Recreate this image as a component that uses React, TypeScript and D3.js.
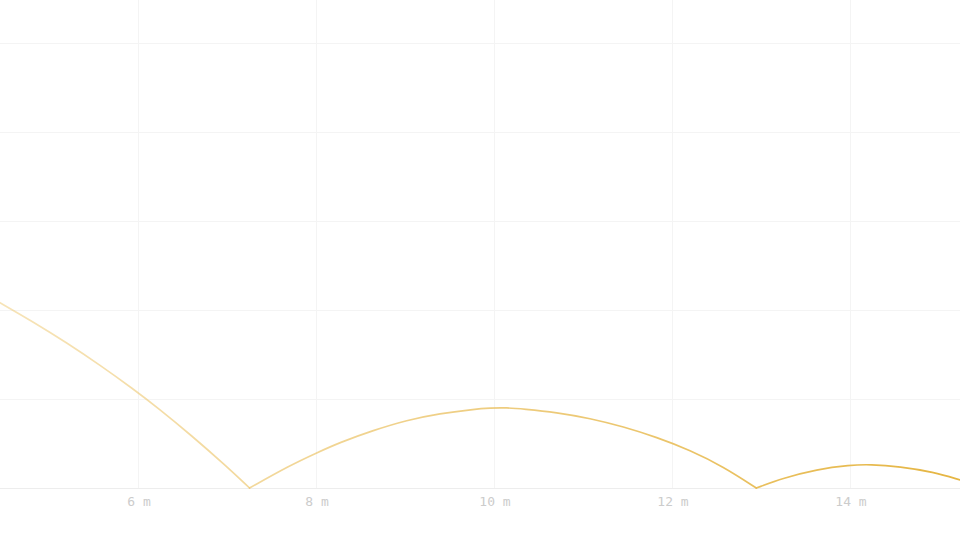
import React from "react";
import * as d3 from "d3";

// Bouncing trajectory (x in metres, height in metres)
const arc1X = [4.438, 4.812, 5.188, 5.562, 5.936, 6.217, 6.592, 6.966, 7.242];
const arc1H = [2.082, 1.866, 1.632, 1.381, 1.112, 0.896, 0.588, 0.259, 0];

const arc2X = [7.242, 7.697, 7.997, 8.258, 8.633, 9.008, 9.382, 9.756, 9.944, 10.131, 10.318, 10.693, 11.067, 11.442, 11.817, 12.191, 12.565, 12.936];
const arc2H = [0, 0.255, 0.395, 0.512, 0.648, 0.762, 0.838, 0.884, 0.899, 0.902, 0.888, 0.849, 0.783, 0.689, 0.57, 0.425, 0.24, 0];

const arc3X = [12.936, 13.239, 13.614, 13.989, 14.213, 14.551, 14.925, 15.225];
const arc3H = [0, 0.112, 0.21, 0.258, 0.266, 0.24, 0.18, 0.09];

const xTicks = [6, 8, 10, 12, 14];
const yGrid = [0, 1, 2, 3, 4, 5];

const W = 960;
const H = 540;

export default function App() {
  const x = d3.scaleLinear().domain([4.4382, 15.2247]).range([0, W]);
  const y = d3.scaleLinear().domain([0, 5.483]).range([488, 0]);

  const line = d3
    .line<[number, number]>()
    .x((d) => x(d[0]))
    .y((d) => y(d[1]))
    .curve(d3.curveBasis);

  const arcs: [number[], number[]][] = [
    [arc1X, arc1H],
    [arc2X, arc2H],
    [arc3X, arc3H],
  ];
  const paths = arcs.map(([xs, hs]) =>
    line(xs.map((v, i) => [v, hs[i]] as [number, number])) || ""
  );

  return (
    <svg
      width={W}
      height={H}
      style={{ position: "absolute", left: 0, top: 0, background: "#fff" }}
    >
      <defs>
        <linearGradient id="trail" gradientUnits="userSpaceOnUse" x1={0} y1={0} x2={W} y2={0}>
          <stop offset="0" stopColor="#eec870" stopOpacity={0.5} />
          <stop offset="0.5" stopColor="#eac162" stopOpacity={0.8} />
          <stop offset="1" stopColor="#e5b542" stopOpacity={1} />
        </linearGradient>
      </defs>
      <g>
        {yGrid.map((v) => (
          <line
            key={"h" + v}
            x1={0}
            x2={W}
            y1={Math.round(y(v)) + 0.5}
            y2={Math.round(y(v)) + 0.5}
            stroke={v === 0 ? "#ededed" : "#f4f4f4"}
            strokeWidth={1}
          />
        ))}
        {xTicks.map((v) => (
          <line
            key={"v" + v}
            x1={Math.round(x(v)) - 0.5}
            x2={Math.round(x(v)) - 0.5}
            y1={0}
            y2={y(0)}
            stroke="#f4f4f4"
            strokeWidth={1}
          />
        ))}
      </g>
      <g>
        {xTicks.map((v) => (
          <text
            key={"t" + v}
            x={x(v)}
            y={506}
            textAnchor="middle"
            fontFamily="'DejaVu Sans Mono', 'Liberation Mono', monospace"
            fontSize={13}
            fill="#cccccc"
          >
            {`${v} m`}
          </text>
        ))}
      </g>
      <g fill="none" stroke="url(#trail)" strokeWidth={1.7} strokeLinejoin="round" strokeLinecap="round">
        {paths.map((p, i) => (
          <path key={i} d={p} />
        ))}
      </g>
    </svg>
  );
}
